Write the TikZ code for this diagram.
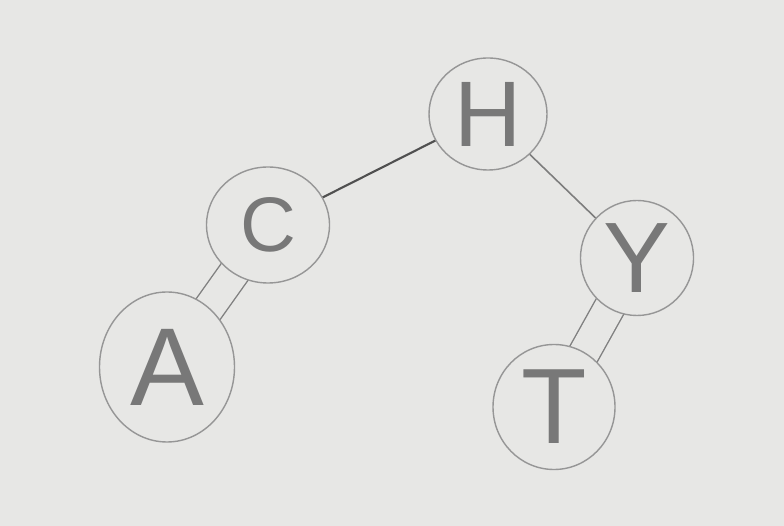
\documentclass[tikz,border=0pt]{standalone}
\usepackage{fontspec}
\setmainfont{Liberation Sans}
\usetikzlibrary{shapes.geometric,backgrounds}
\definecolor{board}{RGB}{231,231,229}
\definecolor{rim}{RGB}{150,150,150}
\definecolor{ink}{RGB}{120,120,120}
\definecolor{stroke}{RGB}{80,80,80}

\begin{document}
\begin{tikzpicture}[node distance=2.9cm]
    \tikzstyle{vertex} = [ellipse, draw=rim, line width=0.8pt, fill=board, inner sep=0pt, text=ink]
    \tikzstyle{edge} = [draw=stroke, line width=1.2pt, shorten <=-0.3cm, shorten >=-0.3cm]
    \tikzstyle{twin} = [draw=rim!85!black, line width=0.8pt, double=board, double distance=0.6cm, shorten <=-0.4cm, shorten >=-0.4cm]

    \useasboundingbox (0,0) rectangle (15.68,-10.52);

    \node (H) [vertex, minimum width=2.36cm, minimum height=2.24cm, font=\fontsize{53}{53}\selectfont] at (9.76,-2.28) {H};
    \node (C) [vertex, below of=H, xshift=-4.4cm, yshift=0.68cm, minimum width=2.46cm, minimum height=2.32cm, font=\fontsize{44}{44}\selectfont] {C};
    \node (Y) [vertex, below of=H, xshift=2.98cm, yshift=0.02cm, minimum width=2.26cm, minimum height=2.3cm, font=\fontsize{57}{57}\selectfont] {Y};
    \node (A) [vertex, below of=C, xshift=-2.02cm, yshift=0.06cm, minimum width=2.7cm, minimum height=3cm, font=\fontsize{63}{63}\selectfont] {A};
    \node (T) [vertex, below of=Y, xshift=-1.66cm, yshift=-0.08cm, minimum width=2.44cm, minimum height=2.5cm, font=\fontsize{61}{61}\selectfont] {T};

    \begin{pgfonlayer}{background}
        \fill [board] (0,0) rectangle (15.68,-10.52);
        \draw [edge] (H) -- (C);
        \draw [edge, draw=stroke!70!board, line width=0.9pt] (H) -- (Y);
        \draw [twin] (C) -- (A);
        \draw [twin] (Y) -- (T);
    \end{pgfonlayer}
\end{tikzpicture}
\end{document}
